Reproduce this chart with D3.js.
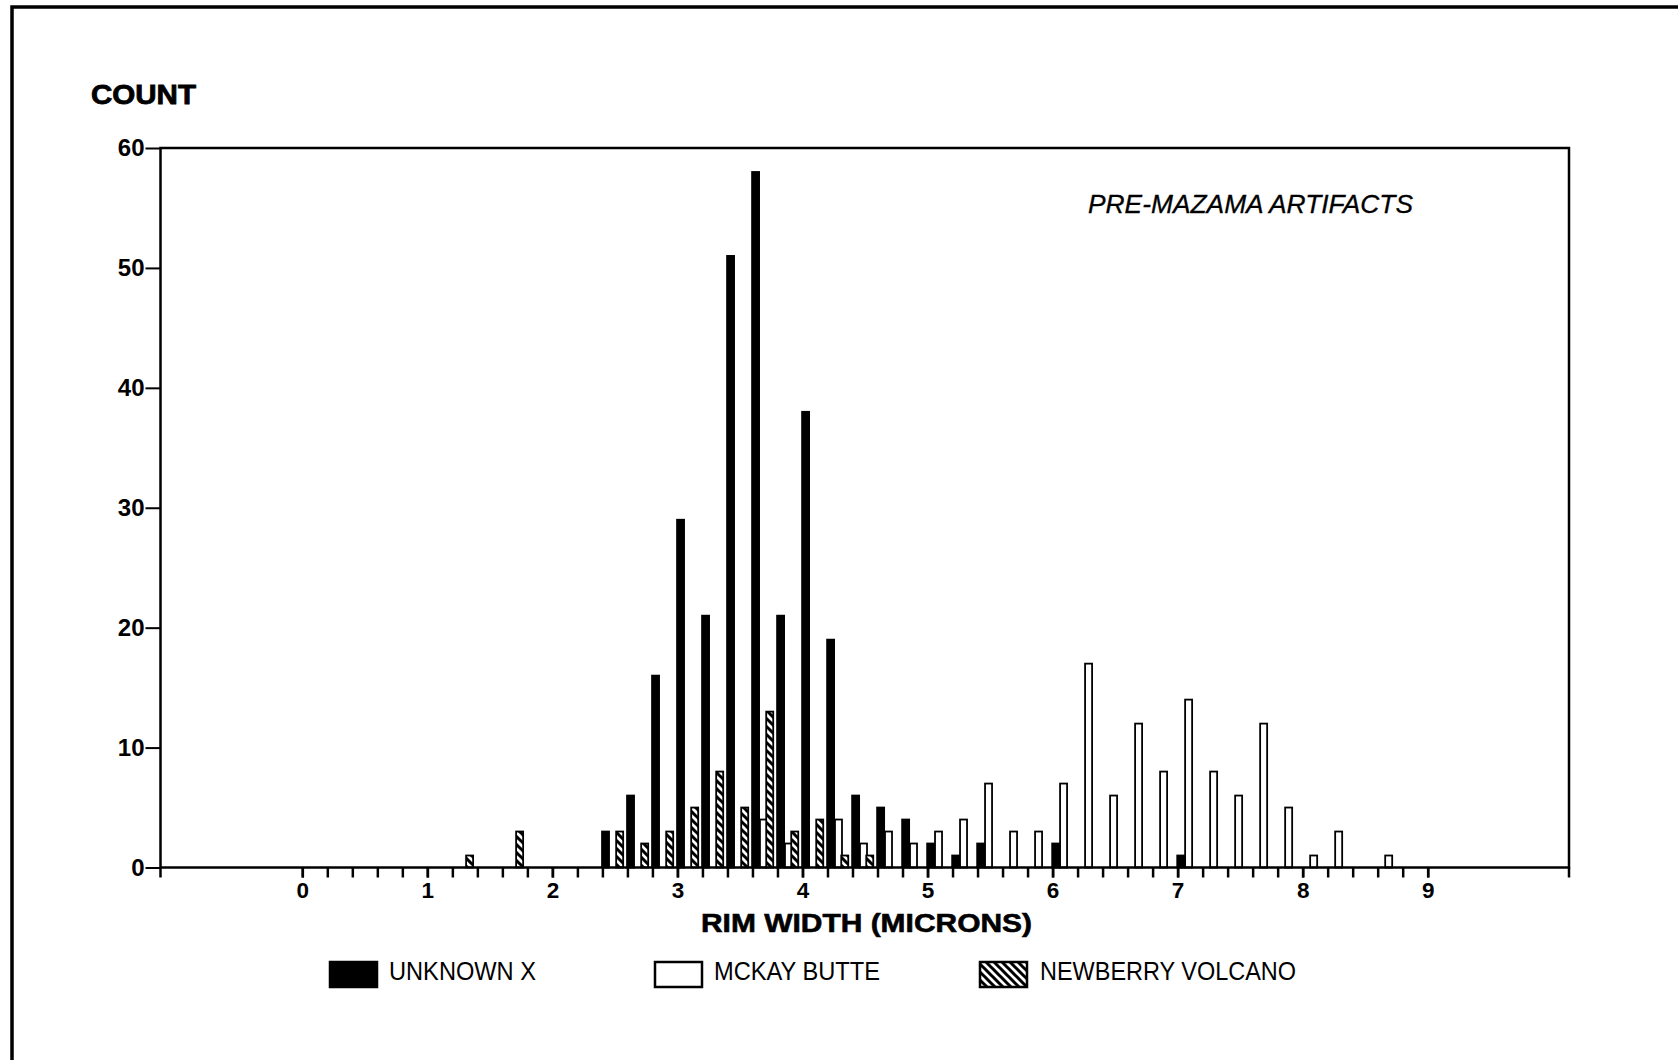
<!DOCTYPE html>
<html>
<head>
<meta charset="utf-8">
<script src="https://cdn.jsdelivr.net/npm/d3@7/dist/d3.min.js"></script>
<style>
  html, body { margin: 0; padding: 0; background: #fff; }
  svg { display: block; }
  text { font-family: "Liberation Sans", Arial, Helvetica, sans-serif; fill: #000; }
</style>
</head>
<body>
<svg id="chart" width="1678" height="1060"></svg>
<script>
// ---- data ----
const bins = [1.2,1.4,1.6,1.8,2.0,2.2,2.4,2.6,2.8,3.0,3.2,3.4,3.6,3.8,4.0,4.2,4.4,4.6,4.8,5.0,
              5.2,5.4,5.6,5.8,6.0,6.2,6.4,6.6,6.8,7.0,7.2,7.4,7.6,7.8,8.0,8.2,8.4,8.6];
const unknownX = [0,0,0,0,0,0,3,6,16,29,21,51,58,21,38,19,6,5,4,2,
                  1,2,0,0,2,0,0,0,0,1,0,0,0,0,0,0,0,0];
const mckayButte = [0,0,0,0,0,0,0,0,0,0,0,0,4,2,0,4,2,3,2,3,
                    4,7,3,3,7,17,6,12,8,14,8,6,12,5,1,3,0,1];
const newberryVolcano = [1,0,3,0,0,0,3,2,3,5,8,5,13,3,4,1,1,0,0,0,
                         0,0,0,0,0,0,0,0,0,0,0,0,0,0,0,0,0,0];
const seriesNames = ["UNKNOWN X", "MCKAY BUTTE", "NEWBERRY VOLCANO"];
const xTickValues = [0,1,2,3,4,5,6,7,8,9];
const xTickLabels = ["0","1","2","3","4","5","6","7","8","9"];
const yTickValues = [0,10,20,30,40,50,60];
const yTickLabels = ["0","10","20","30","40","50","60"];
const titleText = "PRE-MAZAMA ARTIFACTS";
const yTitle = "COUNT";
const xTitle = "RIM WIDTH (MICRONS)";

// ---- layout ----
const svg = d3.select("#chart");
const L = 160.5, R = 1569, T = 148, B = 867.5;
const x = d3.scaleLinear().domain([-1.134, 10.13]).range([L, R]);
const y = d3.scaleLinear().domain([0, 60]).range([B, T]);

// hatch pattern
const defs = svg.append("defs");
const pat = defs.append("pattern").attr("id", "hatch")
  .attr("patternUnits", "userSpaceOnUse").attr("width", 8).attr("height", 8);
pat.append("rect").attr("width", 8).attr("height", 8).attr("fill", "#fff");
pat.append("path").attr("d", "M-2,-2 L10,10 M-2,6 L2,10 M6,-2 L10,2")
  .attr("stroke", "#000").attr("stroke-width", 3);

// outer border
svg.append("path").attr("d", "M12,1060 V7 H1678")
  .attr("fill", "none").attr("stroke", "#000").attr("stroke-width", 3.5);

// bars
const barW = 0.056;
const series = [
  { vals: unknownX, off: 0.025, fill: "#000" },
  { vals: mckayButte, off: 0.088, fill: "#fff" },
  { vals: newberryVolcano, off: 0.138, fill: "url(#hatch)" }
];
series.forEach((s, si) => {
  const data = bins.map((b, i) => ({ b, v: s.vals[i] })).filter(d => d.v > 0);
  svg.append("g").selectAll("rect").data(data).join("rect")
    .attr("x", d => x(d.b + s.off - barW / 2))
    .attr("width", x(barW) - x(0))
    .attr("y", d => y(d.v))
    .attr("height", d => y(0) - y(d.v))
    .attr("fill", s.fill)
    .attr("stroke", "#000")
    .attr("stroke-width", 1.8);
});

// frame
svg.append("rect").attr("x", L).attr("y", T).attr("width", R - L).attr("height", B - T)
  .attr("fill", "none").attr("stroke", "#000").attr("stroke-width", 2.5);
svg.append("line").attr("x1", L).attr("x2", L).attr("y1", B).attr("y2", B + 10)
  .attr("stroke", "#000").attr("stroke-width", 2.5);
svg.append("line").attr("x1", R).attr("x2", R).attr("y1", B).attr("y2", B + 10)
  .attr("stroke", "#000").attr("stroke-width", 2.5);

// x minor ticks
const minor = d3.range(0, 9.001, 0.2);
const gxm = svg.append("g").attr("transform", `translate(0,${B})`)
  .call(d3.axisBottom(x).tickValues(minor).tickSize(10).tickFormat(""));
gxm.select(".domain").remove();
gxm.selectAll("line").attr("stroke", "#000").attr("stroke-width", 2.5);

// x labels
const gx = svg.append("g").attr("transform", `translate(0,${B})`)
  .call(d3.axisBottom(x).tickValues(xTickValues).tickSize(10).tickPadding(5)
    .tickFormat((d, i) => xTickLabels[i]));
gx.select(".domain").remove();
gx.selectAll("line").attr("stroke", "#000").attr("stroke-width", 2.5);
gx.selectAll("text").style("font-size", "22.5px").style("font-weight", "bold")
  .style("font-family", '"Liberation Sans", Arial, sans-serif');

// y axis
const gy = svg.append("g").attr("transform", `translate(${L},0)`)
  .call(d3.axisLeft(y).tickValues(yTickValues).tickSize(15).tickPadding(1)
    .tickFormat((d, i) => yTickLabels[i]));
gy.select(".domain").remove();
gy.selectAll("line").attr("stroke", "#000").attr("stroke-width", 2);
gy.selectAll("text").style("font-size", "24px").style("font-weight", "bold")
  .style("font-family", '"Liberation Sans", Arial, sans-serif');

// titles
svg.append("text").attr("x", 91).attr("y", 104).text(yTitle)
  .style("font-size", "27px").style("font-weight", "bold")
  .attr("stroke", "#000").attr("stroke-width", 0.8)
  .attr("textLength", 105).attr("lengthAdjust", "spacingAndGlyphs");
svg.append("text").attr("x", 701).attr("y", 932).text(xTitle)
  .style("font-size", "26.5px").style("font-weight", "bold")
  .attr("stroke", "#000").attr("stroke-width", 0.6)
  .attr("textLength", 331).attr("lengthAdjust", "spacingAndGlyphs");
svg.append("text").attr("x", 1088).attr("y", 213).text(titleText)
  .style("font-size", "25px").style("font-style", "italic")
  .attr("stroke", "#000").attr("stroke-width", 0.3)
  .attr("textLength", 325).attr("lengthAdjust", "spacingAndGlyphs");

// legend
const legX = [330, 655, 980];
const legTextX = [389, 714, 1040];
const legTextLen = [147, 166, 256];
const legFills = ["#000", "#fff", "url(#hatch)"];
seriesNames.forEach((name, i) => {
  svg.append("rect").attr("x", legX[i]).attr("y", 962).attr("width", 47).attr("height", 25)
    .attr("fill", legFills[i]).attr("stroke", "#000").attr("stroke-width", 2.5);
  svg.append("text").attr("x", legTextX[i]).attr("y", 980).text(name)
    .style("font-size", "25px")
    .attr("textLength", legTextLen[i]).attr("lengthAdjust", "spacingAndGlyphs");
});
</script>
</body>
</html>
